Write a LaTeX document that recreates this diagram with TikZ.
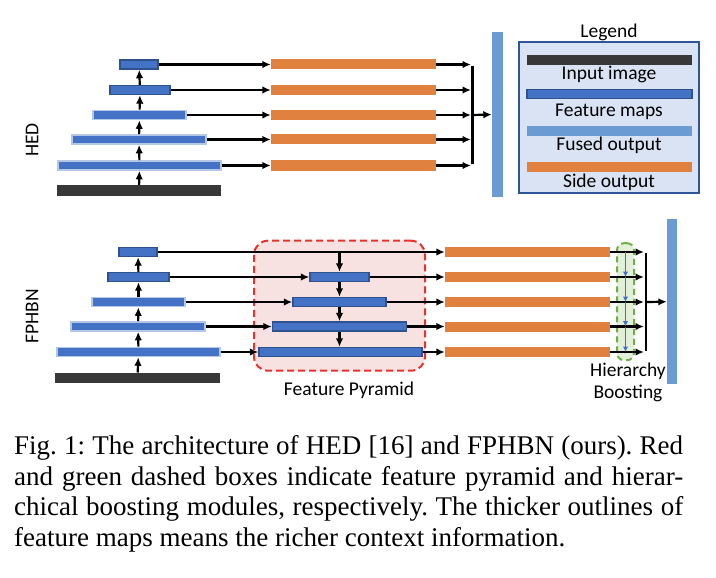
\documentclass[tikz,border=0pt]{standalone}
\usepackage{fontspec}
\setmainfont{Liberation Serif}
\newfontfamily\calib{Carlito}
\usepackage{xcolor}
\usetikzlibrary{arrows.meta}
\usetikzlibrary{positioning}

\definecolor{fmapblue}{HTML}{4472C4}
\definecolor{fmapedge}{HTML}{2F528F}
\definecolor{fmaplite}{HTML}{B4C7E7}
\definecolor{sideorange}{HTML}{E0813F}
\definecolor{fusedblue}{HTML}{6A9BD3}
\definecolor{inputgray}{HTML}{383838}
\definecolor{legendfill}{HTML}{DAE3F3}
\definecolor{legendedge}{HTML}{2F5597}
\definecolor{pyrfill}{HTML}{F8E1E1}
\definecolor{pyredge}{HTML}{E8322B}
\definecolor{hbfill}{HTML}{E2EFD9}
\definecolor{hbedge}{HTML}{70AD47}

\tikzset{
  barbase/.style={rectangle, inner sep=0pt, minimum height=9pt},
  fmapbar/.style={barbase, fill=fmapblue, draw=fmapedge, line width=1.4pt},
  fmaplight/.style={barbase, fill=fmapblue, draw=fmaplite, line width=1.6pt},
  sidebar/.style={barbase, fill=sideorange, minimum width=165pt, minimum height=10pt},
  inputbar/.style={barbase, fill=inputgray, minimum height=11pt},
  fusedbar/.style={barbase, fill=fusedblue, minimum width=11pt},
  arr/.style={line width=2.2pt, -{Latex[length=8.5pt,width=7.5pt]}},
  hbarr/.style={line width=1.8pt, draw=fmapblue, -{Latex[length=5.5pt,width=5.5pt]}},
  labeltext/.style={font=\calib\fontsize{19.5}{22}\selectfont, inner sep=0pt}
}

\begin{document}
\begin{tikzpicture}[x=1pt, y=-1pt]
        \useasboundingbox (0,0) rectangle (716,578);
        % ---- HED ----
        \node[inputbar, minimum width=164pt] (hin) at (139,190.5) {};
        \node[fmaplight, minimum width=163pt] (hf5) at (139.5,165.5) {};
        \node[fmaplight, minimum width=134pt] (hf4) at (139,139.5) {};
        \node[fmaplight, minimum width=93pt] (hf3) at (139.5,115) {};
        \node[fmapbar, minimum width=60pt] (hf2) at (140,90) {};
        \node[fmapbar, minimum width=38pt] (hf1) at (139,64.5) {};
        \node[sidebar] (hs1) at (353.5,64.5) {};
        \node[sidebar] (hs2) at (353.5,90) {};
        \node[sidebar] (hs3) at (353.5,115) {};
        \node[sidebar] (hs4) at (353.5,139.5) {};
        \node[sidebar] (hs5) at (353.5,165.5) {};
        \node[fusedbar, minimum height=165pt] (hfused) at (497.5,114.5) {};
        \node[labeltext, rotate=90] (hedlabel) at (32,140) {HED};
        \draw[arr] (hin) -- (hf5);
        \draw[arr] (hf5) -- (hf4);
        \draw[arr] (hf4) -- (hf3);
        \draw[arr] (hf3) -- (hf2);
        \draw[arr] (hf2) -- (hf1);
        \foreach \i in {1,...,5}
            \draw[arr] (hf\i.east) -- (hs\i.west);
        \coordinate (hmerge) at (472.5,115);
        \foreach \i in {1,...,5}
            \draw[arr, shorten >=1.5pt] (hs\i.east) -- (hs\i.east -| hmerge);
        \draw[line width=2.2pt] ([yshift=-1.1pt]hs1.east -| hmerge) -- ([yshift=1.1pt]hs5.east -| hmerge);
        \draw[arr] (hmerge) -- (hfused.west);
        % ---- legend ----
        \node[rectangle, fill=legendfill, draw=legendedge, line width=1.6pt, minimum width=180pt, minimum height=151pt, inner sep=0pt] (legend) at (609,117.6) {};
        \node[labeltext] (legtitle) at (609,32.5) {Legend};
        \node[inputbar, minimum width=165pt, minimum height=10pt] (leginput) at (609.5,59.7) {};
        \node[fmapbar, minimum width=165pt] (legfmap) at (609.5,94) {};
        \node[fusedbar, minimum width=165pt, minimum height=10pt] (legfused) at (609.5,130.7) {};
        \node[sidebar] (legside) at (609.5,166.7) {};
        \node[labeltext] at (609,74.5) {Input image};
        \node[labeltext] at (609,112) {Feature maps};
        \node[labeltext] at (609,145) {Fused output};
        \node[labeltext] at (609,182) {Side output};
        % ---- FPHBN ----
        \node[rectangle, rounded corners=14pt, fill=pyrfill, draw=pyredge, line width=2pt, dash pattern=on 7pt off 4pt, minimum width=171pt, minimum height=130pt] (pyrbox) at (339.5,305.7) {};
        \node[rectangle, rounded corners=7pt, fill=hbfill, draw=hbedge, line width=2pt, dash pattern=on 6pt off 4pt, minimum width=17pt, minimum height=117pt] (hbbox) at (625.5,301.7) {};
        \node[inputbar, minimum width=165pt, minimum height=10pt] (fin) at (137.5,377.7) {};
        \node[fmaplight, minimum width=163pt] (ff5) at (138.5,352) {};
        \node[fmaplight, minimum width=134pt] (ff4) at (138,326.5) {};
        \node[fmaplight, minimum width=93pt] (ff3) at (138.5,302) {};
        \node[fmapbar, minimum width=61pt] (ff2) at (138.5,277) {};
        \node[fmapbar, minimum width=38pt] (ff1) at (138,252) {};
        \node[fmapbar, minimum width=59pt] (fp2) at (339.5,277) {};
        \node[fmapbar, minimum width=93pt] (fp3) at (339.5,302) {};
        \node[fmapbar, minimum width=134pt] (fp4) at (339.5,326.5) {};
        \node[fmapbar, minimum width=163pt] (fp5) at (340.5,352) {};
        \node[sidebar] (fs1) at (527.5,252) {};
        \node[sidebar] (fs2) at (527.5,277) {};
        \node[sidebar] (fs3) at (527.5,302) {};
        \node[sidebar] (fs4) at (527.5,326.5) {};
        \node[sidebar] (fs5) at (527.5,352) {};
        \node[fusedbar, minimum width=10pt, minimum height=165pt] (ffused) at (672,301.7) {};
        \node[labeltext, rotate=90] (fphbnlabel) at (32,316) {FPHBN};
        \node[labeltext] (pyrlabel) at (349,390) {Feature Pyramid};
        \node[labeltext, align=center] (hblabel) at (628,382) {Hierarchy\\Boosting};
        \draw[arr] (fin) -- (ff5);
        \draw[arr] (ff5) -- (ff4);
        \draw[arr] (ff4) -- (ff3);
        \draw[arr] (ff3) -- (ff2);
        \draw[arr] (ff2) -- (ff1);
        \draw[arr] (ff1.east) -- (fs1.west);
        \foreach \i in {2,...,5}{
            \draw[arr] (ff\i.east) -- (fp\i.west);
            \draw[arr] (fp\i.east) -- (fs\i.west);
        }
        \draw[arr] (fp2.north |- fs1.west) -- (fp2.north);
        \draw[arr] (fp2) -- (fp3);
        \draw[arr] (fp3) -- (fp4);
        \draw[arr] (fp4.south -| fp2.south) -- (fp5.north -| fp2.south);
        \coordinate (fmerge) at (646,302);
        \foreach \i in {1,...,5}
            \draw[arr, shorten >=2pt] (fs\i.east) -- (fs\i.east -| fmerge);
        \draw[line width=2.2pt] ([yshift=-1.1pt]fs1.east -| fmerge) -- ([yshift=1.1pt]fs5.east -| fmerge);
        \draw[arr] (fmerge) -- (ffused.west);
        \coordinate (hbline) at (625.5,302);
        \draw[hbarr] (fs1.east -| hbline) -- (fs2.east -| hbline);
        \draw[hbarr] (fs2.east -| hbline) -- (fs3.east -| hbline);
        \draw[hbarr] (fs3.east -| hbline) -- (fs4.east -| hbline);
        \draw[hbarr] (fs4.east -| hbline) -- (fs5.east -| hbline);
        % ---- caption ----
        \node[anchor=north west, inner sep=0pt, text width=669pt, align=justify,
              font=\fontsize{27}{30.8}\selectfont\frenchspacing] (caption) at (14,435)
            {Fig.~1: The architecture of HED [16] and FPHBN (ours). Red\linebreak
             and green dashed boxes indicate feature pyramid and hierar-\linebreak
             chical boosting modules, respectively. The thicker outlines of\linebreak
             feature maps means the richer context information.};
    \end{tikzpicture}
\end{document}
